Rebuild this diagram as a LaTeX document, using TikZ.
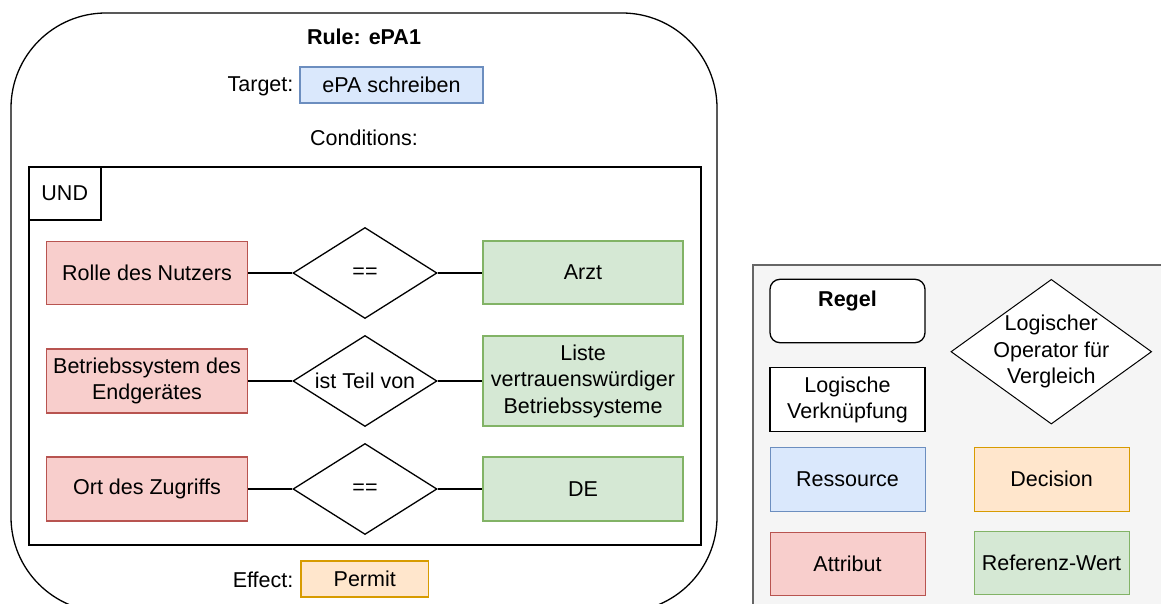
\documentclass[tikz,border=0pt]{standalone}
\usepackage{fontspec}
\setmainfont{Liberation Sans}
\usetikzlibrary{shapes.geometric}
\definecolor{rfill}{HTML}{F8CECC}\definecolor{rline}{HTML}{B85450}
\definecolor{gfill}{HTML}{D5E8D4}\definecolor{gline}{HTML}{82B366}
\definecolor{bfill}{HTML}{DAE8FC}\definecolor{bline}{HTML}{6C8EBF}
\definecolor{ofill}{HTML}{FFE6CC}\definecolor{oline}{HTML}{D79B00}
\definecolor{lgfill}{HTML}{F5F5F5}\definecolor{lgline}{HTML}{666666}
\begin{document}
\begin{tikzpicture}[x=1pt,y=-1pt,
  font=\fontsize{21.5}{26.5}\selectfont,
  line width=1.3pt,
  sz/.style 2 args={minimum width=#1, minimum height=#2, inner sep=0pt, align=center},
  attrbox/.style={rectangle, draw=rline, fill=rfill},
  refbox/.style={rectangle, draw=gline, fill=gfill},
  resbox/.style={rectangle, draw=bline, fill=bfill},
  decbox/.style={rectangle, draw=oline, fill=ofill},
  plainbox/.style={rectangle, draw=black, fill=white},
  opshape/.style={diamond, draw=black, fill=white, inner sep=0pt},
  conn/.style={draw=black, line width=1.3pt},
  lg/.style={line width=1pt}]
\clip (0,0) rectangle (1161,604);
\fill[white] (0,0) rectangle (1161,604);

% Rule container
\node[draw=black, fill=white, rounded corners=95pt, sz={706}{599}] (rule) at (364,312.5) {};
\node[font=\fontsize{21.5}{26.5}\selectfont\bfseries] (title) at (364,37) {Rule: ePA1};
\node[anchor=east, inner sep=2pt] (tlab) at (296,86) {Target:};
\node[resbox, sz={183}{36}] (target) at (391.5,85) {ePA schreiben};
\node (cond) at (364,138) {Conditions:};

% Conditions frame
\node[draw=black, line width=2pt, sz={672.5}{378}] (frame) at (364.75,356) {};
\node[draw=black, line width=1.3pt, sz={72.5}{53}] (und) at (64.75,193.5) {UND};

% Row 1
\node[attrbox, sz={201}{63}] (a1) at (147,273) {Rolle des Nutzers};
\node[opshape, minimum width=144, minimum height=91, label=center:{==}] (o1) at (365,273) {};
\node[refbox, sz={200}{63}] (v1) at (583,272.5) {Arzt};
% Row 2
\node[attrbox, sz={201}{64}] (a2) at (147,381) {Betriebssystem des\\Endgerätes};
\node[opshape, minimum width=144, minimum height=91, label=center:{ist Teil von}] (o2) at (365,381) {};
\node[refbox, sz={200}{90}] (v2) at (583,381) {Liste\\vertrauenswürdiger\\Betriebssysteme};
% Row 3
\node[attrbox, sz={201}{64}] (a3) at (147,489) {Ort des Zugriffs};
\node[opshape, minimum width=144, minimum height=91, label=center:{==}] (o3) at (365,489) {};
\node[refbox, sz={200}{64}] (v3) at (583,489) {DE};

\draw[conn] (a1.east) -- (o1.west);
\draw[conn] (o1.east) -- (v1.west |- o1.east);
\draw[conn] (a2.east) -- (o2.west);
\draw[conn] (o2.east) -- (v2.west);
\draw[conn] (a3.east) -- (o3.west);
\draw[conn] (o3.east) -- (v3.west);

% Effect
\node[anchor=east, inner sep=2pt] (elab) at (296,580) {Effect:};
\node[decbox, sz={127.5}{36}] (effect) at (364.75,579) {Permit};

% Legend
\draw[draw=lgline, fill=lgfill, line width=1.2pt] (753,265) rectangle (1180,630);
\node[plainbox, rounded corners=10pt, sz={155}{63.4}] (lregel) at (847.5,311) {};
\node[font=\fontsize{21.5}{26.5}\selectfont\bfseries] (lregeltxt) at (847.5,301) {Regel};
\node[plainbox, sz={155}{64}] (lverk) at (847.5,399.7) {Logische\\Verknüpfung};
\node[opshape, lg, minimum width=200.7, minimum height=144.7,
      label={[align=center]center:{Logischer\\Operator für\\Vergleich}}] (lop) at (1051.3,351.7) {};
\node[resbox, lg, sz={155}{64}] (lres) at (847.5,479) {Ressource};
\node[decbox, lg, sz={155}{64}] (ldec) at (1051.5,479) {Decision};
\node[attrbox, lg, sz={155}{63.3}] (lattr) at (847.5,563.7) {Attribut};
\node[refbox, lg, sz={155}{63.3}] (lref) at (1051.5,562.7) {Referenz-Wert};
\end{tikzpicture}
\end{document}
